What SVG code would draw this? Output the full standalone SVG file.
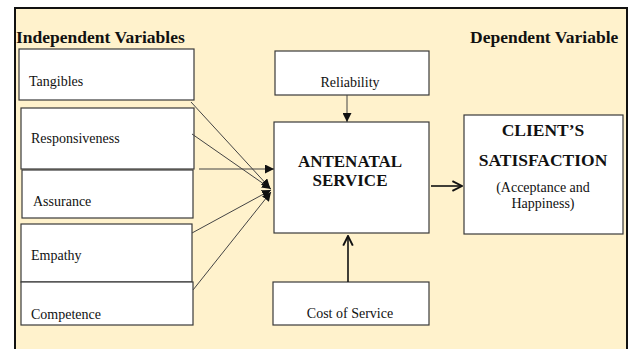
<svg xmlns="http://www.w3.org/2000/svg" width="630" height="349" viewBox="0 0 630 349">
<style>
.box{fill:#fff;stroke:#3a3a3a;stroke-width:1.2}
.lbl{font-family:"Liberation Serif",serif;font-size:14px;fill:#111}
.hd{font-family:"Liberation Serif",serif;font-size:17.5px;font-weight:bold;fill:#111}
.bt{font-family:"Liberation Serif",serif;font-size:17px;font-weight:bold;fill:#111;text-anchor:middle}
.thin{stroke:#444;stroke-width:1;fill:none}
.bold{stroke:#111;stroke-width:1.6;fill:none}
</style>
<defs>
<marker id="tri" viewBox="0 0 10 10" refX="10" refY="5" markerWidth="9" markerHeight="9" markerUnits="userSpaceOnUse" orient="auto"><path d="M0,0 L10,5 L0,10 z" fill="#111"/></marker>
<marker id="chev" viewBox="0 0 10 10" refX="9" refY="5" markerWidth="12" markerHeight="12" markerUnits="userSpaceOnUse" orient="auto"><path d="M1,1 L9,5 L1,9" fill="none" stroke="#111" stroke-width="1.6"/></marker>
</defs>
<rect x="0" y="0" width="630" height="349" fill="#fff"/>
<rect x="15" y="8" width="612" height="345" fill="#FFF2CC" stroke="#111" stroke-width="2"/>
<text class="hd" x="16" y="43">Independent Variables</text>
<text class="hd" x="470" y="43">Dependent Variable</text>

<g id="tangibles"><rect class="box" x="19" y="49" width="175" height="51"/><text class="lbl" x="29" y="86">Tangibles</text></g>
<g id="responsiveness"><rect class="box" x="21" y="108" width="173" height="61"/><text class="lbl" x="31" y="143">Responsiveness</text></g>
<g id="assurance"><rect class="box" x="22" y="170" width="171" height="48"/><text class="lbl" x="33" y="206">Assurance</text></g>
<g id="empathy"><rect class="box" x="21" y="224" width="171" height="58"/><text class="lbl" x="31" y="260">Empathy</text></g>
<g id="competence"><rect class="box" x="21" y="282" width="172" height="43"/><text class="lbl" x="31" y="319">Competence</text></g>
<g id="reliability"><rect class="box" x="275" y="51" width="154" height="44"/><text class="lbl" x="350" y="87" text-anchor="middle">Reliability</text></g>
<g id="antenatal"><rect class="box" x="274" y="122" width="155" height="111"/><text class="bt" x="350" y="167">ANTENATAL</text><text class="bt" x="350" y="186">SERVICE</text></g>
<g id="cost"><rect class="box" x="273" y="282" width="156" height="43"/><text class="lbl" x="350" y="318" text-anchor="middle">Cost of Service</text></g>
<g id="client"><rect class="box" x="464" y="115" width="159" height="119"/><text class="bt" x="543" y="136" style="font-size:17.5px">CLIENT’S</text><text class="bt" x="543" y="166" style="font-size:17.5px">SATISFACTION</text><text class="lbl" x="543" y="192" text-anchor="middle">(Acceptance and</text><text class="lbl" x="543" y="208" text-anchor="middle">Happiness)</text></g>

<g id="connectors">
<line class="thin" x1="191" y1="102" x2="270" y2="188" marker-end="url(#tri)"/>
<line class="thin" x1="192" y1="134" x2="271" y2="189" marker-end="url(#tri)"/>
<line class="thin" x1="192" y1="233" x2="271" y2="190" marker-end="url(#tri)"/>
<line class="thin" x1="193" y1="290" x2="271" y2="192" marker-end="url(#tri)"/>
<line class="thin" x1="199" y1="169" x2="274" y2="169" stroke="#111" marker-end="url(#tri)"/>
<line class="thin" x1="347" y1="95" x2="347" y2="122" marker-end="url(#tri)"/>
<line class="bold" x1="431" y1="186" x2="462" y2="186" marker-end="url(#chev)"/>
<line class="bold" x1="348" y1="282" x2="348" y2="236" marker-end="url(#chev)"/>
</g>
</svg>
